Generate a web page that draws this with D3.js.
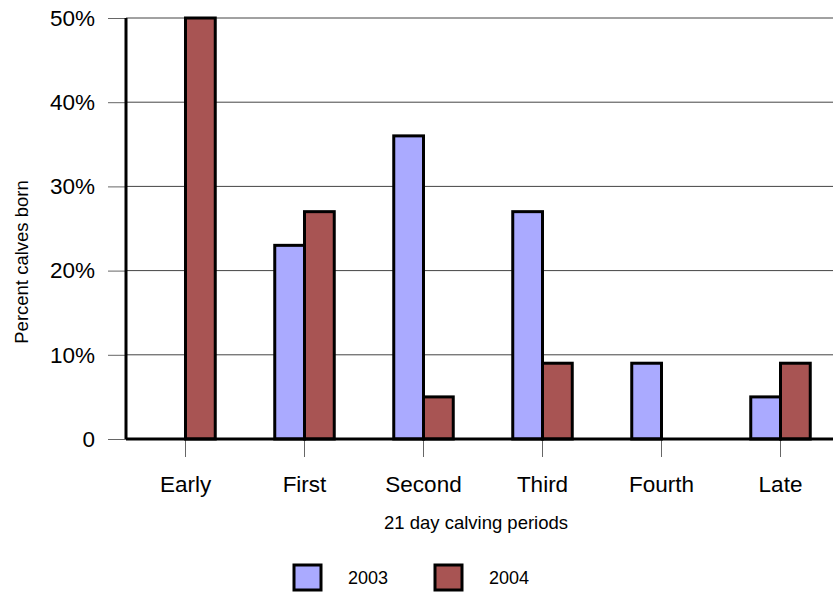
<!DOCTYPE html>
<html>
<head>
<meta charset="utf-8">
<script src="https://cdn.jsdelivr.net/npm/d3@7"></script>
<style>
  html, body { margin: 0; padding: 0; background: #fff; }
  svg { display: block; font-family: "Liberation Sans", Arial, sans-serif; }
</style>
</head>
<body>
<svg id="chart" width="833" height="592"></svg>
<script>
// Share of calves born in each 21-day calving period, by year
const categories = ["Early", "First", "Second", "Third", "Fourth", "Late"];
const seriesNames = ["2003", "2004"];
const values2003 = [0, 23, 36, 27, 9, 5];
const values2004 = [50, 27, 5, 9, 0, 9];
const yTicks = [0, 10, 20, 30, 40, 50];
const colors = ["#aaaaff", "#a85453"];

const svg = d3.select("#chart");
const margin = { left: 126, right: -7, top: 18, bottom: 153 };
const width = 833 - margin.left - margin.right;
const height = 592 - margin.top - margin.bottom;
const g = svg.append("g").attr("transform", `translate(${margin.left},${margin.top})`);

const x = d3.scaleBand().domain(categories).range([0, width]).paddingInner(0).paddingOuter(0);
const x1 = d3.scaleBand().domain(seriesNames).range([x.bandwidth() * 0.25, x.bandwidth() * 0.75]);
const y = d3.scaleLinear().domain([0, 50]).range([height, 0]);

// horizontal gridlines
g.append("g").selectAll("line").data(yTicks.filter(d => d > 0)).join("line")
  .attr("x1", 0).attr("x2", width)
  .attr("y1", d => y(d)).attr("y2", d => y(d))
  .attr("stroke", "#444").attr("stroke-width", 1);

// y axis ticks and labels
const yAxis = g.append("g").call(
  d3.axisLeft(y).tickValues(yTicks).tickSize(18).tickPadding(13)
    .tickFormat(d => d === 0 ? "0" : d + "%"));
yAxis.select(".domain").remove();
yAxis.selectAll(".tick line").attr("stroke", "#666");
yAxis.selectAll(".tick text").attr("font-size", 22.5).attr("fill", "#000")
  .attr("font-family", "Liberation Sans, Arial, sans-serif");

// x axis ticks and labels
const xAxis = g.append("g").attr("transform", `translate(0,${height})`)
  .call(d3.axisBottom(x).tickSize(18).tickPadding(19));
xAxis.select(".domain").remove();
xAxis.selectAll(".tick line").attr("stroke", "#666");
xAxis.selectAll(".tick text").attr("font-size", 22.5).attr("fill", "#000")
  .attr("font-family", "Liberation Sans, Arial, sans-serif");

// bars
const rows = categories.map((c, i) => ({ cat: c, vals: [values2003[i], values2004[i]] }));
g.append("g").selectAll("g").data(rows).join("g")
  .attr("transform", d => `translate(${x(d.cat)},0)`)
  .selectAll("rect").data(d => d.vals.map((v, j) => ({ key: seriesNames[j], v, j })))
  .join("rect")
  .attr("x", d => x1(d.key))
  .attr("width", x1.bandwidth())
  .attr("y", d => y(d.v))
  .attr("height", d => height - y(d.v))
  .attr("fill", d => colors[d.j])
  .attr("stroke", "#000").attr("stroke-width", 3);

// axis lines
g.append("line").attr("x1", 0).attr("x2", 0).attr("y1", 0).attr("y2", height)
  .attr("stroke", "#000").attr("stroke-width", 3);
g.append("line").attr("x1", 0).attr("x2", width).attr("y1", height).attr("y2", height)
  .attr("stroke", "#000").attr("stroke-width", 3);

// axis titles
svg.append("text").attr("x", 476).attr("y", 529).attr("text-anchor", "middle")
  .attr("font-size", 18.5).text("21 day calving periods");
svg.append("text").attr("transform", "translate(28,262) rotate(-90)")
  .attr("text-anchor", "middle").attr("font-size", 18.5).text("Percent calves born");

// legend
const legend = svg.append("g");
const legendX = [294, 435];
seriesNames.forEach((s, i) => {
  legend.append("rect").attr("x", legendX[i]).attr("y", 565).attr("width", 27).attr("height", 25)
    .attr("fill", colors[i]).attr("stroke", "#000").attr("stroke-width", 3);
  legend.append("text").attr("x", legendX[i] + 54).attr("y", 584)
    .attr("font-size", 18).text(s);
});
</script>
</body>
</html>
